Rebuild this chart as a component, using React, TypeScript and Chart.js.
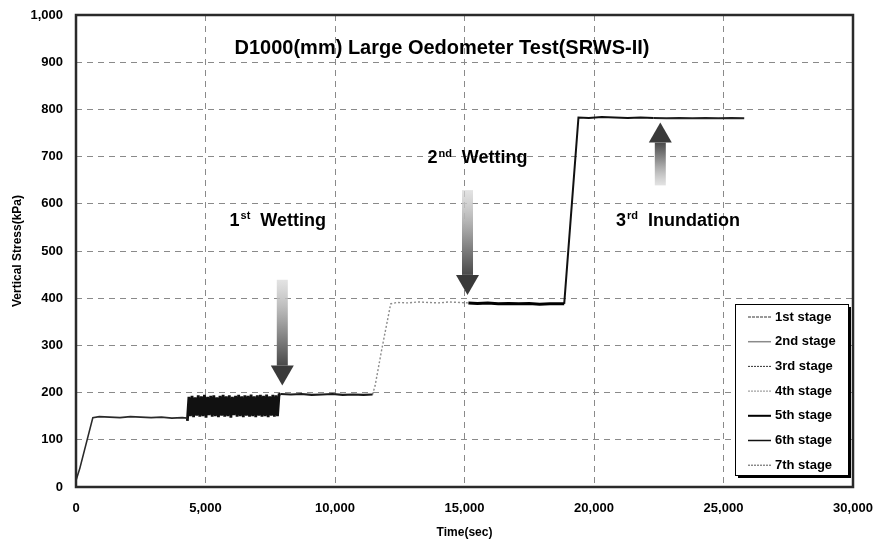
import React, { useEffect, useRef } from 'react';
import { Chart, registerables } from 'chart.js';

Chart.register(...registerables);

const FONT = '"Liberation Sans", Arial, sans-serif';

// x-axis / y-axis ticks
const xTickStep = 5000;
const yTickStep = 100;

// Stage series (time in sec, vertical stress in kPa)
const stage1Time = [0, 150, 650, 900, 1300, 1700, 2100, 2500, 2900, 3300, 3700, 4100, 4300];
const stage1Stress = [14, 40, 147, 149, 148, 147, 149, 148, 147, 148, 146, 147, 146];

const stage2Time = [
  4300, 4360, 4420, 4480, 4540, 4600, 4660, 4720, 4780, 4840,
  4900, 4960, 5020, 5080, 5140, 5200, 5260, 5320, 5380, 5440,
  5500, 5560, 5620, 5680, 5740, 5800, 5860, 5920, 5980, 6040,
  6100, 6160, 6220, 6280, 6340, 6400, 6460, 6520, 6580, 6640,
  6700, 6760, 6820, 6880, 6940, 7000, 7060, 7120, 7180, 7240,
  7300, 7360, 7420, 7480, 7540, 7600, 7660, 7720, 7780, 7840,
  7900,
];
const stage2Stress = [
  140, 191, 150, 193, 148, 190, 151, 194, 149, 192,
  150, 195, 147, 191, 152, 193, 149, 194, 150, 190,
  148, 193, 151, 195, 149, 192, 150, 194, 147, 191,
  152, 193, 149, 195, 150, 192, 148, 194, 151, 193,
  149, 196, 150, 192, 148, 194, 151, 195, 149, 193,
  150, 196, 148, 192, 151, 195, 149, 194, 150, 196,
  197,
];

const stage3Time = [7900, 8300, 8700, 9100, 9500, 9900, 10300, 10700, 11100, 11450];
const stage3Stress = [197, 196, 197, 195, 196, 197, 195, 196, 195, 196];

const stage4Time = [11450, 11550, 11800, 12150, 12400, 12800, 13200, 13600, 14000, 14400, 14800, 15150];
const stage4Stress = [196, 215, 290, 388, 391, 390, 392, 391, 390, 392, 391, 390];

const stage5Time = [15150, 15500, 15900, 16300, 16700, 17100, 17500, 17900, 18300, 18850];
const stage5Stress = [390, 389, 390, 388, 389, 388, 389, 387, 388, 388];

const stage6Time = [18850, 19400, 19800, 20300, 20800, 21300, 21800, 22300];
const stage6Stress = [388, 783, 782, 784, 783, 782, 783, 782];

const stage7Time = [22300, 22800, 23300, 23800, 24300, 24800, 25300, 25800];
const stage7Stress = [782, 781, 782, 781, 782, 781, 782, 781];

const stageNames = ['1st stage', '2nd stage', '3rd stage', '4th stage', '5th stage', '6th stage', '7th stage'];

// Annotations (data coordinates)
const arrowTime = [7965, 15116, 22560];
const arrowTail = [439, 629, 639];
const arrowTip = [215, 407, 772];

const labelTime = [7790, 15500, 23240];
const labelStress = [563, 696, 563];
const labelNum = ['1', '2', '3'];
const labelSup = ['st', 'nd', 'rd'];
const labelWord = ['Wetting', 'Wetting', 'Inundation'];

const titleText = 'D1000(mm) Large Oedometer Test(SRWS-II)';
const titleTime = 14130;
const titleStress = 928;

const stageStyles = [
  { color: '#2a2a2a', width: 1.6, dash: [] as number[] },
  { color: '#111111', width: 2.8, dash: [] as number[] },
  { color: '#1a1a1a', width: 2.2, dash: [] as number[] },
  { color: '#8c8c8c', width: 1.4, dash: [2, 2] },
  { color: '#000000', width: 3, dash: [] as number[] },
  { color: '#111111', width: 2, dash: [] as number[] },
  { color: '#222222', width: 2, dash: [] as number[] },
];

const legendStyles = [
  { color: '#333333', width: 1, dash: [3, 1] },
  { color: '#8a8a8a', width: 1.5, dash: [] as number[] },
  { color: '#333333', width: 1, dash: [2, 1] },
  { color: '#8a8a8a', width: 1, dash: [2, 1] },
  { color: '#000000', width: 2, dash: [] as number[] },
  { color: '#111111', width: 1.5, dash: [] as number[] },
  { color: '#555555', width: 1, dash: [2, 1] },
];

const stageTimes = [stage1Time, stage2Time, stage3Time, stage4Time, stage5Time, stage6Time, stage7Time];
const stageStress = [stage1Stress, stage2Stress, stage3Stress, stage4Stress, stage5Stress, stage6Stress, stage7Stress];

const bgPlugin = {
  id: 'bg',
  beforeDraw(chart: any) {
    const { ctx, width, height } = chart;
    ctx.save();
    ctx.fillStyle = '#ffffff';
    ctx.fillRect(0, 0, width, height);
    ctx.restore();
  },
};

function drawArrow(ctx: CanvasRenderingContext2D, x: number, yTail: number, yTip: number) {
  const shaftW = 11;
  const headW = 23;
  const headL = 20;
  const dir = yTip > yTail ? 1 : -1;
  const headBase = yTip - dir * headL;
  const grad = ctx.createLinearGradient(0, yTail, 0, headBase);
  grad.addColorStop(0, 'rgba(215,215,215,0.7)');
  grad.addColorStop(0.45, '#a8a8a8');
  grad.addColorStop(1, '#4a4a4a');
  ctx.fillStyle = grad;
  ctx.fillRect(x - shaftW / 2, Math.min(yTail, headBase), shaftW, Math.abs(headBase - yTail));
  ctx.fillStyle = '#3a3a3a';
  ctx.beginPath();
  ctx.moveTo(x - headW / 2, headBase);
  ctx.lineTo(x + headW / 2, headBase);
  ctx.lineTo(x, yTip);
  ctx.closePath();
  ctx.fill();
}

const overlayPlugin = {
  id: 'overlay',
  afterDatasetsDraw(chart: any) {
    const { ctx, chartArea } = chart;
    const xs = chart.scales.x;
    const ys = chart.scales.y;
    ctx.save();
    // arrows
    for (let i = 0; i < arrowTime.length; i++) {
      drawArrow(ctx, xs.getPixelForValue(arrowTime[i]), ys.getPixelForValue(arrowTail[i]), ys.getPixelForValue(arrowTip[i]));
    }
    // title
    ctx.fillStyle = '#000';
    ctx.textBaseline = 'middle';
    ctx.textAlign = 'center';
    ctx.font = `bold 20px ${FONT}`;
    ctx.fillText(titleText, xs.getPixelForValue(titleTime), ys.getPixelForValue(titleStress));
    // stage labels
    ctx.textAlign = 'left';
    for (let i = 0; i < labelTime.length; i++) {
      const bigFont = `bold 18px ${FONT}`;
      const supFont = `bold 11px ${FONT}`;
      ctx.font = bigFont;
      const wNum = ctx.measureText(labelNum[i]).width;
      const wWord = ctx.measureText(labelWord[i]).width;
      ctx.font = supFont;
      const wSup = ctx.measureText(labelSup[i]).width;
      const gap = 10;
      const total = wNum + 1 + wSup + gap + wWord;
      const cx = xs.getPixelForValue(labelTime[i]);
      const cy = ys.getPixelForValue(labelStress[i]);
      let x = cx - total / 2;
      ctx.font = bigFont;
      ctx.fillText(labelNum[i], x, cy);
      x += wNum + 1;
      ctx.font = supFont;
      ctx.fillText(labelSup[i], x, cy - 5);
      x += wSup + gap;
      ctx.font = bigFont;
      ctx.fillText(labelWord[i], x, cy);
    }
    // plot frame
    ctx.strokeStyle = '#2a2a2a';
    ctx.lineWidth = 2.5;
    ctx.setLineDash([]);
    ctx.strokeRect(chartArea.left, chartArea.top, chartArea.right - chartArea.left, chartArea.bottom - chartArea.top);
    // legend
    const lw = 113;
    const lh = 171;
    const lx = chartArea.right - 5 - lw;
    const ly = chartArea.bottom - 12 - lh;
    ctx.fillStyle = '#000';
    ctx.fillRect(lx + 3, ly + 3, lw, lh);
    ctx.fillStyle = '#fff';
    ctx.fillRect(lx, ly, lw, lh);
    ctx.strokeStyle = '#000';
    ctx.lineWidth = 1;
    ctx.strokeRect(lx + 0.5, ly + 0.5, lw, lh);
    ctx.font = `bold 13px ${FONT}`;
    ctx.textBaseline = 'middle';
    for (let i = 0; i < stageNames.length; i++) {
      const yy = ly + 13 + i * 24.7;
      const st = legendStyles[i];
      ctx.strokeStyle = st.color;
      ctx.lineWidth = st.width;
      ctx.setLineDash(st.dash);
      ctx.beginPath();
      ctx.moveTo(lx + 13, yy);
      ctx.lineTo(lx + 36, yy);
      ctx.stroke();
      ctx.setLineDash([]);
      ctx.fillStyle = '#000';
      ctx.fillText(stageNames[i], lx + 40, yy);
    }
    ctx.restore();
  },
};

export default function App() {
  const ref = useRef<HTMLCanvasElement>(null);
  useEffect(() => {
    document.body.style.margin = '0';
    const canvas = ref.current!;
    const datasets = stageNames.map((name, i) => ({
      label: name,
      data: stageTimes[i].map((t, j) => ({ x: t, y: stageStress[i][j] })),
      borderColor: stageStyles[i].color,
      borderWidth: stageStyles[i].width,
      borderDash: stageStyles[i].dash,
      pointRadius: 0,
      fill: false,
      tension: 0,
    }));
    const tickFont = { family: FONT, size: 13, weight: 'bold' as const };
    const chart = new Chart(canvas, {
      type: 'line',
      data: { datasets },
      plugins: [bgPlugin, overlayPlugin],
      options: {
        animation: false,
        responsive: false,
        devicePixelRatio: 1,
        layout: { padding: { top: 15, right: 26, left: 0, bottom: 0 } },
        plugins: { legend: { display: false }, tooltip: { enabled: false } },
        scales: {
          x: {
            type: 'linear',
            min: 0,
            max: 30000,
            afterFit: (s: any) => { s.height = 57; s.paddingLeft = 0; s.paddingRight = 0; },
            ticks: {
              stepSize: xTickStep,
              padding: 14,
              maxRotation: 0,
              color: '#000',
              font: tickFont,
              callback: (v: any) => Number(v).toLocaleString('en-US'),
            },
            grid: { color: '#8a8a8a', lineWidth: 1, drawTicks: false },
            border: { display: false, dash: [6, 5] },
            title: {
              display: true,
              text: 'Time(sec)',
              color: '#000',
              font: { family: FONT, size: 12, weight: 'bold' },
              padding: { top: 0, bottom: 4 },
            },
          },
          y: {
            min: 0,
            max: 1000,
            afterFit: (s: any) => { s.width = 76; s.paddingTop = 0; s.paddingBottom = 0; },
            ticks: {
              stepSize: yTickStep,
              padding: 13,
              color: '#000',
              font: tickFont,
              callback: (v: any) => Number(v).toLocaleString('en-US'),
            },
            grid: { color: '#8a8a8a', lineWidth: 1, drawTicks: false },
            border: { display: false, dash: [6, 5] },
            title: {
              display: true,
              text: 'Vertical Stress(kPa)',
              color: '#000',
              font: { family: FONT, size: 12, weight: 'bold' },
              padding: { top: 10, bottom: 0 },
            },
          },
        },
      },
    } as any);
    return () => chart.destroy();
  }, []);
  return (
    <div style={{ width: 879, height: 544, background: '#fff' }}>
      <canvas ref={ref} width={879} height={544} style={{ display: 'block' }} />
    </div>
  );
}
